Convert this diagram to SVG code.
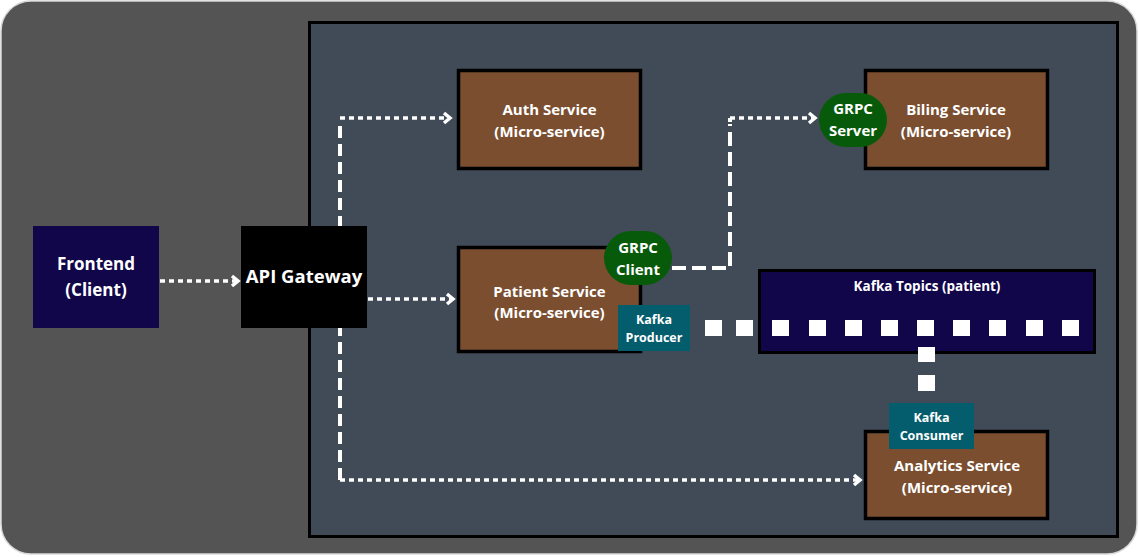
<svg xmlns="http://www.w3.org/2000/svg" width="1139" height="557" viewBox="0 0 1139 557">
<defs>
<style>
.t{font-family:"Open Sans","Noto Sans","Liberation Sans",sans-serif;font-weight:700;fill:#ffffff;text-anchor:middle}
.svc{fill:#7a4e2f;stroke:#000;stroke-width:3.5}
.pill{fill:#085a0b}
.kafka{fill:#045d6d}
.dot{fill:none;stroke:#fff;stroke-width:3.5;stroke-dasharray:5 4}
.dash{fill:none;stroke:#fff;stroke-width:4;stroke-dasharray:12 6}
.sq{fill:#fff}
</style>
<marker id="arr" markerWidth="12" markerHeight="14" refX="9" refY="7" orient="auto" markerUnits="userSpaceOnUse">
<polyline points="3,2 9,7 3,12" fill="none" stroke="#fff" stroke-width="3.5"/>
</marker>
</defs>
<rect id="outer" x="1" y="1" width="1136" height="553" rx="30" fill="#545454" stroke="#d8d8d8" stroke-width="1.5"/>
<rect id="cluster" x="309.5" y="22.5" width="808" height="514" fill="#414b57" stroke="#000" stroke-width="3"/>
<g id="connectors">
<path class="dash" d="M340,480 V120"/>
<path class="dot" d="M340,118 H450" marker-end="url(#arr)"/>
<path class="dot" d="M340,480 H860" marker-end="url(#arr)"/>
<path class="dot" d="M160,281 H238" marker-end="url(#arr)"/>
<path class="dot" d="M368,299 H453" marker-end="url(#arr)"/>
<path class="dash" d="M672,268 H730 V124" style="stroke-dasharray:14 6"/>
<path class="dot" d="M730,118 H815" marker-end="url(#arr)"/>
<path class="dash" d="M730,118 V122"/>
</g>
<g id="frontend">
<rect x="33" y="226" width="126" height="102" fill="#12064a"/>
<text class="t" x="96" y="270" font-size="17">Frontend</text>
<text class="t" x="96" y="296" font-size="17">(Client)</text>
</g>
<g id="api-gateway">
<rect x="241" y="226" width="126" height="102" fill="#000"/>
<text class="t" x="304" y="283" font-size="18.5">API Gateway</text>
</g>
<g id="auth-service">
<rect class="svc" x="458.5" y="70.5" width="182" height="98"/>
<text class="t" x="549.5" y="115" font-size="15">Auth Service</text>
<text class="t" x="549.5" y="137" font-size="15">(Micro-service)</text>
</g>
<g id="patient-service">
<rect class="svc" x="458.5" y="247.5" width="182" height="104"/>
<text class="t" x="549.5" y="297" font-size="15">Patient Service</text>
<text class="t" x="549.5" y="318" font-size="15">(Micro-service)</text>
</g>
<g id="grpc-client">
<rect class="pill" x="604" y="231" width="68" height="54" rx="27"/>
<text class="t" x="638" y="253" font-size="15">GRPC</text>
<text class="t" x="638" y="275" font-size="15">Client</text>
</g>
<g id="kafka-producer">
<rect class="kafka" x="618" y="305" width="72" height="46"/>
<text class="t" x="654" y="324" font-size="12.5">Kafka</text>
<text class="t" x="654" y="342" font-size="12.5">Producer</text>
</g>
<g id="billing-service">
<rect class="svc" x="865.5" y="70.5" width="182" height="98"/>
<text class="t" x="956" y="115" font-size="15">Biling Service</text>
<text class="t" x="956" y="137" font-size="15">(Micro-service)</text>
</g>
<g id="grpc-server">
<rect class="pill" x="819" y="93" width="68" height="54" rx="27"/>
<text class="t" x="853" y="114" font-size="15">GRPC</text>
<text class="t" x="853" y="136" font-size="15">Server</text>
</g>
<g id="kafka-topics">
<rect x="759.5" y="270.5" width="335" height="82" fill="#12064a" stroke="#000" stroke-width="3"/>
<text class="t" x="927" y="291" font-size="13.5">Kafka Topics (patient)</text>
</g>
<g id="kafka-flow">
<rect class="sq" x="705" y="320" width="17" height="16"/>
<rect class="sq" x="736" y="320" width="17" height="16"/>
<rect class="sq" x="772" y="320" width="17" height="16"/>
<rect class="sq" x="809" y="320" width="17" height="16"/>
<rect class="sq" x="845" y="320" width="17" height="16"/>
<rect class="sq" x="881" y="320" width="17" height="16"/>
<rect class="sq" x="917" y="320" width="17" height="16"/>
<rect class="sq" x="953" y="320" width="17" height="16"/>
<rect class="sq" x="989" y="320" width="17" height="16"/>
<rect class="sq" x="1026" y="320" width="17" height="16"/>
<rect class="sq" x="1062" y="320" width="17" height="16"/>
<rect class="sq" x="918" y="347" width="17" height="15"/>
<rect class="sq" x="918" y="375" width="17" height="16"/>
</g>
<g id="analytics-service">
<rect class="svc" x="865.5" y="431.5" width="182" height="87"/>
<text class="t" x="957" y="471" font-size="15">Analytics Service</text>
<text class="t" x="957" y="493" font-size="15">(Micro-service)</text>
</g>
<g id="kafka-consumer">
<rect class="kafka" x="889" y="403" width="85" height="46"/>
<text class="t" x="931.5" y="422" font-size="12.5">Kafka</text>
<text class="t" x="931.5" y="440" font-size="12.5">Consumer</text>
</g>
</svg>
